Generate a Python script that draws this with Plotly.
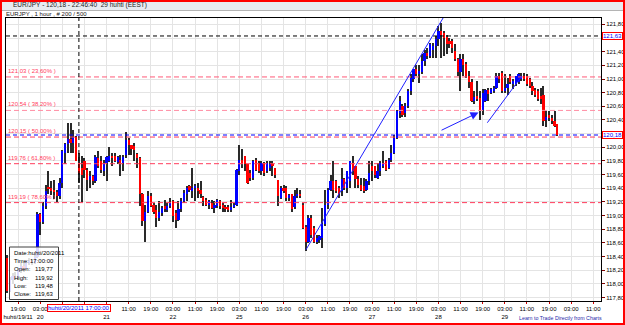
import plotly.graph_objects as go

# ---------------- data (EUR/JPY, 1 hour bars, huhti 19 15:00 -> huhti 29 22:00) ----------------
opens = [118.38,117.90,118.05,118.12,118.08,118.20,118.26,118.22,118.30,118.34,
         118.31,118.40,119.02,118.90,119.14,119.42,119.40,119.38,119.34,119.28,
         119.48,119.92,120.05,120.12,120.07,120.15,119.77,119.70,119.80,119.67,
         119.52,119.58,119.50,119.84,119.80,119.66,119.77,119.80,119.88,119.87,
         119.78,119.82,119.77,119.89,120.11,120.04,120.02,119.90,119.84,119.31,
         118.92,119.06,119.28,119.16,119.08,118.97,119.04,119.14,119.08,119.14,
         119.21,119.04,118.93,119.09,119.21,119.31,119.43,119.36,119.40,119.40,
         119.38,119.27,119.23,119.16,119.19,119.11,119.14,119.21,119.16,119.13,
         119.12,119.08,119.12,119.16,119.65,119.82,119.87,119.75,119.62,119.55,
         119.82,119.77,119.65,119.77,119.65,119.70,119.75,119.70,119.52,119.26,
         119.40,119.40,119.26,119.31,119.12,119.28,119.31,119.16,118.84,118.62,
         118.96,118.82,118.62,118.65,118.67,118.87,119.16,119.38,119.50,119.50,
         119.40,119.36,119.53,119.41,119.50,119.77,119.72,119.53,119.45,119.43,
         119.38,119.50,119.72,119.72,119.55,119.65,119.72,119.80,119.70,119.82,
         119.92,120.14,120.50,120.60,120.50,120.60,120.82,121.00,121.14,121.07,
         121.10,121.26,121.38,121.33,121.42,121.48,121.58,121.70,121.68,121.62,
         121.56,121.55,121.41,121.29,121.10,121.30,121.22,121.04,120.95,120.68,
         120.75,120.72,120.55,120.68,120.84,120.80,120.83,120.87,121.04,121.09,
         120.83,120.87,121.04,120.93,120.92,120.95,121.00,121.05,121.04,121.00,
         120.90,120.84,120.82,120.75,120.77,120.40,120.48,120.43,120.38,120.34]
highs = [118.42,118.10,118.16,118.18,118.24,118.30,118.31,118.34,118.38,118.37,
         118.43,119.05,119.04,119.20,119.45,119.65,119.50,119.52,119.38,119.55,
         119.96,120.07,120.36,120.36,120.26,120.17,119.92,119.87,119.84,119.70,
         119.65,119.60,119.89,119.94,119.88,119.82,119.87,120.01,119.92,119.92,
         119.88,119.89,119.89,120.23,120.14,120.04,120.06,119.92,119.86,119.33,
         119.16,119.36,119.33,119.18,119.16,119.21,119.14,119.23,119.18,119.26,
         119.23,119.08,119.21,119.26,119.38,119.43,119.45,119.70,119.46,119.48,
         119.50,119.28,119.26,119.23,119.23,119.21,119.24,119.23,119.18,119.16,
         119.16,119.23,119.19,119.68,120.04,119.97,119.87,119.75,119.67,119.82,
         119.84,119.80,119.80,119.79,119.80,119.80,119.80,119.70,119.52,119.43,
         119.45,119.43,119.31,119.31,119.38,119.40,119.38,119.18,118.86,119.01,
         119.01,118.85,118.72,118.72,119.11,119.38,119.40,119.60,119.80,119.52,
         119.43,119.70,119.55,119.65,119.80,119.87,119.72,119.58,119.55,119.55,
         119.53,119.80,119.80,119.72,119.77,119.80,119.94,119.82,119.84,120.04,
         120.18,120.55,120.75,120.64,120.65,120.85,121.07,121.14,121.21,121.21,
         121.36,121.43,121.46,121.53,121.53,121.63,121.77,121.82,121.70,121.65,
         121.60,121.58,121.51,121.31,121.36,121.36,121.25,121.12,121.00,120.82,
         120.97,120.82,120.85,120.85,120.87,120.87,120.90,121.09,121.09,121.12,
         121.07,121.02,121.07,121.00,121.05,121.09,121.09,121.09,121.07,121.02,
         120.95,120.87,120.85,120.87,120.90,120.53,120.53,120.48,120.53,120.34]
lows = [117.86,117.88,118.00,118.05,118.06,118.16,118.18,118.20,118.27,118.27,
        118.29,118.38,118.72,118.88,119.10,119.31,119.30,119.24,119.20,119.25,
        119.40,119.75,119.92,119.92,119.92,119.85,119.48,119.20,119.55,119.36,
        119.40,119.45,119.48,119.70,119.62,119.58,119.50,119.78,119.72,119.78,
        119.75,119.58,119.65,119.84,119.89,119.89,119.80,119.70,119.14,118.85,
        118.62,119.04,119.12,119.02,118.84,118.92,119.00,119.06,119.06,119.11,
        118.90,118.82,118.92,119.06,119.18,119.21,119.35,119.26,119.21,119.26,
        119.26,119.14,119.14,119.10,119.09,119.04,119.11,119.09,119.06,119.06,
        119.05,119.05,119.11,119.14,119.60,119.70,119.65,119.46,119.50,119.52,
        119.65,119.62,119.60,119.58,119.62,119.65,119.58,119.55,119.14,119.24,
        119.33,119.21,119.21,119.06,119.10,119.26,119.26,118.80,118.48,118.60,
        118.67,118.60,118.58,118.60,118.53,118.85,119.10,119.36,119.26,119.33,
        119.26,119.28,119.38,119.33,119.40,119.60,119.40,119.40,119.36,119.33,
        119.36,119.45,119.50,119.55,119.53,119.58,119.70,119.65,119.68,119.78,
        119.90,120.12,120.43,120.45,120.45,120.58,120.77,120.95,121.04,120.94,
        121.08,121.19,121.29,121.31,121.31,121.31,121.48,121.31,121.34,121.36,
        121.46,121.38,121.26,121.04,120.82,121.05,121.02,120.87,120.66,120.63,
        120.68,120.40,120.48,120.67,120.68,120.78,120.80,120.85,120.94,120.80,
        120.80,120.77,120.92,120.85,120.90,120.93,120.97,120.97,120.90,120.87,
        120.77,120.74,120.68,120.63,120.31,120.29,120.38,120.34,120.30,120.16]
closes = [117.89,118.05,118.12,118.08,118.20,118.26,118.22,118.30,118.34,118.31,
          118.40,119.02,118.90,119.14,119.36,119.40,119.36,119.34,119.28,119.48,
          119.94,120.05,120.12,120.07,120.15,119.80,119.63,119.60,119.67,119.52,
          119.58,119.50,119.86,119.72,119.67,119.77,119.86,119.88,119.84,119.80,
          119.86,119.77,119.86,120.11,120.04,119.98,119.96,119.84,119.31,118.92,
          119.06,119.28,119.14,119.06,118.97,119.05,119.11,119.10,119.14,119.18,
          119.00,118.93,119.09,119.21,119.33,119.40,119.38,119.41,119.43,119.36,
          119.31,119.21,119.16,119.21,119.11,119.16,119.23,119.14,119.11,119.09,
          119.08,119.12,119.16,119.67,119.82,119.76,119.75,119.48,119.55,119.80,
          119.67,119.65,119.77,119.62,119.77,119.75,119.72,119.60,119.28,119.40,
          119.36,119.26,119.30,119.09,119.28,119.31,119.28,118.82,118.62,118.96,
          118.72,118.62,118.67,118.70,118.87,119.16,119.38,119.50,119.38,119.36,
          119.31,119.53,119.41,119.65,119.80,119.65,119.53,119.45,119.38,119.36,
          119.50,119.62,119.65,119.60,119.65,119.77,119.77,119.67,119.82,119.92,
          120.14,120.53,120.68,120.48,120.60,120.82,121.02,121.14,121.07,121.12,
          121.26,121.38,121.33,121.51,121.48,121.58,121.70,121.65,121.60,121.51,
          121.51,121.45,121.29,121.10,121.30,121.20,121.04,120.95,120.68,120.74,
          120.70,120.55,120.80,120.84,120.78,120.85,120.87,121.04,121.00,120.82,
          120.87,120.92,120.95,120.97,121.04,121.07,121.05,121.00,120.92,120.90,
          120.82,120.77,120.70,120.70,120.39,120.45,120.43,120.38,120.31,120.18]

tick_index = [4 + 8 * k for k in range(27)]
# time labels hidden under the crosshair date tag are left blank
tick_labels = ["19:00<br>huhti/19/11", "03:00<br>20", " ", " ", " <br>21", "11:00",
               "19:00", "03:00<br>22", "11:00", "19:00", "03:00<br>25", "11:00", "19:00",
               "03:00<br>26", "11:00", "19:00", "03:00<br>27", "11:00", "19:00", "03:00<br>28",
               "11:00", "19:00", "03:00<br>29", "11:00", "19:00", "03:00", "11:00"]
price_ticks = [117.80, 118.00, 118.20, 118.40, 118.60, 118.80, 119.00, 119.20, 119.40, 119.60,
               119.80, 120.00, 120.20, 120.40, 120.60, 120.80, 121.00, 121.20, 121.40, 121.60, 121.80]

fib_prices = [121.03, 120.54, 120.15, 119.76, 119.19]
fib_pcts = ["23,60%", "38,20%", "50,00%", "61,80%", "78,60%"]
fib_colors = ["#ff5a78", "#ff8ca2", "#ff3c5c", "#ff3c5c", "#ff3c5c"]

current_price = 120.18
cross_price = 121.63
cross_index = 26
info_rows = [("Time:", "17:00:00"), ("Open:", "119,77"), ("High:", "119,92"),
             ("Low:", "119,48"), ("Close:", "119,63")]
# user-drawn trend lines (bar index, price)
trend_lines = [(108.1, 118.50, 157.8, 121.90), (173.7, 120.36, 186.1, 121.04)]
arrow_line = (156.6, 120.24, 170.5, 120.51)

# ---------------- geometry helpers (pixel -> paper) ----------------
W, H = 625, 325
PL, PR, PT, PB = 6, 601, 18, 301
def px(x):
    return (x - PL) / (PR - PL)
def py(y):
    return (PB - y) / (PB - PT)
def fmt(p):
    return f"{p:.2f}".replace(".", ",")

FONT = "Liberation Sans"
n = len(closes)
idx = list(range(n))
body_col = ["#0000ff" if c >= o else "#ff0000" for o, c in zip(opens, closes)]

fig = go.Figure()
fig.add_trace(go.Bar(x=idx, base=lows, y=[h - l for h, l in zip(highs, lows)], width=0.38,
                     marker=dict(color="#2a2a2a", line=dict(width=0)), hoverinfo="skip"))
fig.add_trace(go.Bar(x=idx, base=[min(o, c) for o, c in zip(opens, closes)],
                     y=[max(abs(c - o), 0.01) for o, c in zip(opens, closes)], width=0.8,
                     marker=dict(color=body_col, line=dict(width=0)), hoverinfo="skip"))

shapes = []
annots = []
# fib lines
for p, pct, col in zip(fib_prices, fib_pcts, fib_colors):
    shapes.append(dict(type="line", xref="paper", x0=0, x1=1, yref="y", y0=p, y1=p,
                       line=dict(color=col, width=1, dash="5px,3px"), layer="above"))
    annots.append(dict(xref="paper", x=px(6), yref="y", y=p, yshift=1, xanchor="left", yanchor="bottom",
                       text=fmt(p) + " ( " + pct + " )", showarrow=False,
                       font=dict(family=FONT, size=6, color="#ff3c5c")))
# current price + crosshair
shapes.append(dict(type="line", xref="paper", x0=0, x1=1, yref="y", y0=current_price, y1=current_price,
                   line=dict(color="#0000ff", width=1, dash="4px,3px"), layer="above"))
shapes.append(dict(type="line", xref="paper", x0=0, x1=1, yref="y", y0=cross_price, y1=cross_price,
                   line=dict(color="#000000", width=1, dash="4px,3px"), layer="above"))
shapes.append(dict(type="line", xref="x", x0=cross_index, x1=cross_index, yref="paper", y0=0, y1=1,
                   line=dict(color="#000000", width=1, dash="4px,3px"), layer="above"))
# trend lines
for (x0, y0, x1, y1) in trend_lines:
    shapes.append(dict(type="line", xref="x", yref="y", x0=x0, y0=y0, x1=x1, y1=y1,
                       line=dict(color="#2020ff", width=1), layer="above"))
annots.append(dict(xref="x", yref="y", axref="x", ayref="y", x=arrow_line[2], y=arrow_line[3],
                   ax=arrow_line[0], ay=arrow_line[1], showarrow=True, arrowhead=2, arrowsize=1.6,
                   arrowwidth=1, arrowcolor="#2020ff", text=""))

# outer chrome: header bar and red frame
shapes.append(dict(type="rect", xref="paper", yref="paper", x0=px(0), x1=px(W), y0=py(10.5), y1=py(0),
                   fillcolor="#e8ebf1", line=dict(width=0), layer="below"))
shapes.append(dict(type="line", xref="paper", yref="paper", x0=px(0), x1=px(W), y0=py(10.5), y1=py(10.5),
                   line=dict(color="#b4b4b4", width=1)))
shapes.append(dict(type="rect", xref="paper", yref="paper", x0=px(1), x1=px(W - 1), y0=py(H - 1), y1=py(1),
                   line=dict(color="#ff0000", width=2)))
# info box
shapes.append(dict(type="rect", xref="paper", yref="paper", x0=px(9.5), x1=px(58.5), y0=py(299.5), y1=py(247),
                   fillcolor="rgba(255,255,255,0.85)", line=dict(color="#404040", width=1), layer="above"))
annots.append(dict(xref="paper", yref="paper", x=px(12), y=py(253), xanchor="left", yanchor="middle",
                   text="Date:huhti/20/2011", showarrow=False, font=dict(family=FONT, size=6, color="#000")))
for k, (lab, val) in enumerate(info_rows):
    yy = 261 + k * 8.3
    annots.append(dict(xref="paper", yref="paper", x=px(12), y=py(yy), xanchor="left", yanchor="middle",
                       text=lab, showarrow=False, font=dict(family=FONT, size=6, color="#000")))
    annots.append(dict(xref="paper", yref="paper", x=px(56), y=py(yy), xanchor="right", yanchor="middle",
                       text=val, showarrow=False, font=dict(family=FONT, size=6, color="#000")))

# header texts
annots.append(dict(xref="paper", yref="paper", x=px(11), y=py(5.5), xanchor="left", yanchor="middle",
                   text="EUR/JPY - 120,18 - 22:46:40\u00a0\u00a029 huhti (EEST)", showarrow=False,
                   font=dict(family=FONT, size=6.5, color="#202020")))
annots.append(dict(xref="paper", yref="paper", x=px(4), y=py(14), xanchor="left", yanchor="middle",
                   text="EURJPY , 1 hour , # 200 / 500", showarrow=False,
                   font=dict(family=FONT, size=6, color="#202020")))
# price tags on the right axis (they replace the nearby tick labels)
for p in (cross_price, current_price):
    annots.append(dict(xref="paper", yref="y", x=px(602), y=p, xanchor="left", yanchor="middle",
                       text=fmt(p), showarrow=False, bgcolor="#ffffff",
                       bordercolor="#ff0000", borderwidth=1, borderpad=0,
                       font=dict(family=FONT, size=6, color="#0000ff")))
hidden = [min(price_ticks, key=lambda t: abs(t - p)) for p in (cross_price, current_price)]
price_text = ["" if t in hidden else fmt(t) for t in price_ticks]
# crosshair date tag
annots.append(dict(xref="x", yref="paper", x=cross_index, y=py(308), xanchor="center", yanchor="middle",
                   text="huhti/20/2011 17:00:00", showarrow=False, bgcolor="#ffffff",
                   bordercolor="#ff0000", borderwidth=1, borderpad=0,
                   font=dict(family=FONT, size=6, color="#0000ff")))
annots.append(dict(xref="paper", yref="paper", x=px(517), y=py(318), xanchor="left", yanchor="middle",
                   text="Learn to Trade Directly from Charts", showarrow=False,
                   font=dict(family=FONT, size=5.3, color="#2828a8")))

ytop = 120 + (147.3 - PT) / 68.3
ybot = 120 - (PB - 147.3) / 68.3

fig.update_layout(
    width=W, height=H, margin=dict(l=PL, r=W - PR, t=PT, b=H - PB, autoexpand=False),
    paper_bgcolor="#ffffff", plot_bgcolor="#ffffff", showlegend=False,
    barmode="overlay", bargap=0, separators=", ",
    shapes=shapes, annotations=annots,
    font=dict(family=FONT, size=6, color="#000000"),
    xaxis=dict(range=[-0.36, 214.8], tickmode="array", tickvals=tick_index, ticktext=tick_labels,
               tickangle=0, showgrid=True, gridcolor="#e4e4e4", gridwidth=1, zeroline=False,
               showline=True, linecolor="#000000", linewidth=1, mirror=True,
               ticks="outside", ticklen=2, tickcolor="#d00000", automargin=False,
               tickfont=dict(family=FONT, size=6, color="#000000")),
    yaxis=dict(range=[ybot, ytop], side="right", tickmode="array", tickvals=price_ticks,
               ticktext=price_text,
               showgrid=True, gridcolor="#e4e4e4", gridwidth=1, zeroline=False,
               showline=True, linecolor="#000000", linewidth=1, mirror=True,
               ticks="outside", ticklen=3, tickcolor="#800000", automargin=False,
               tickfont=dict(family=FONT, size=6, color="#000000")),
)

fig.write_html("out.html")
